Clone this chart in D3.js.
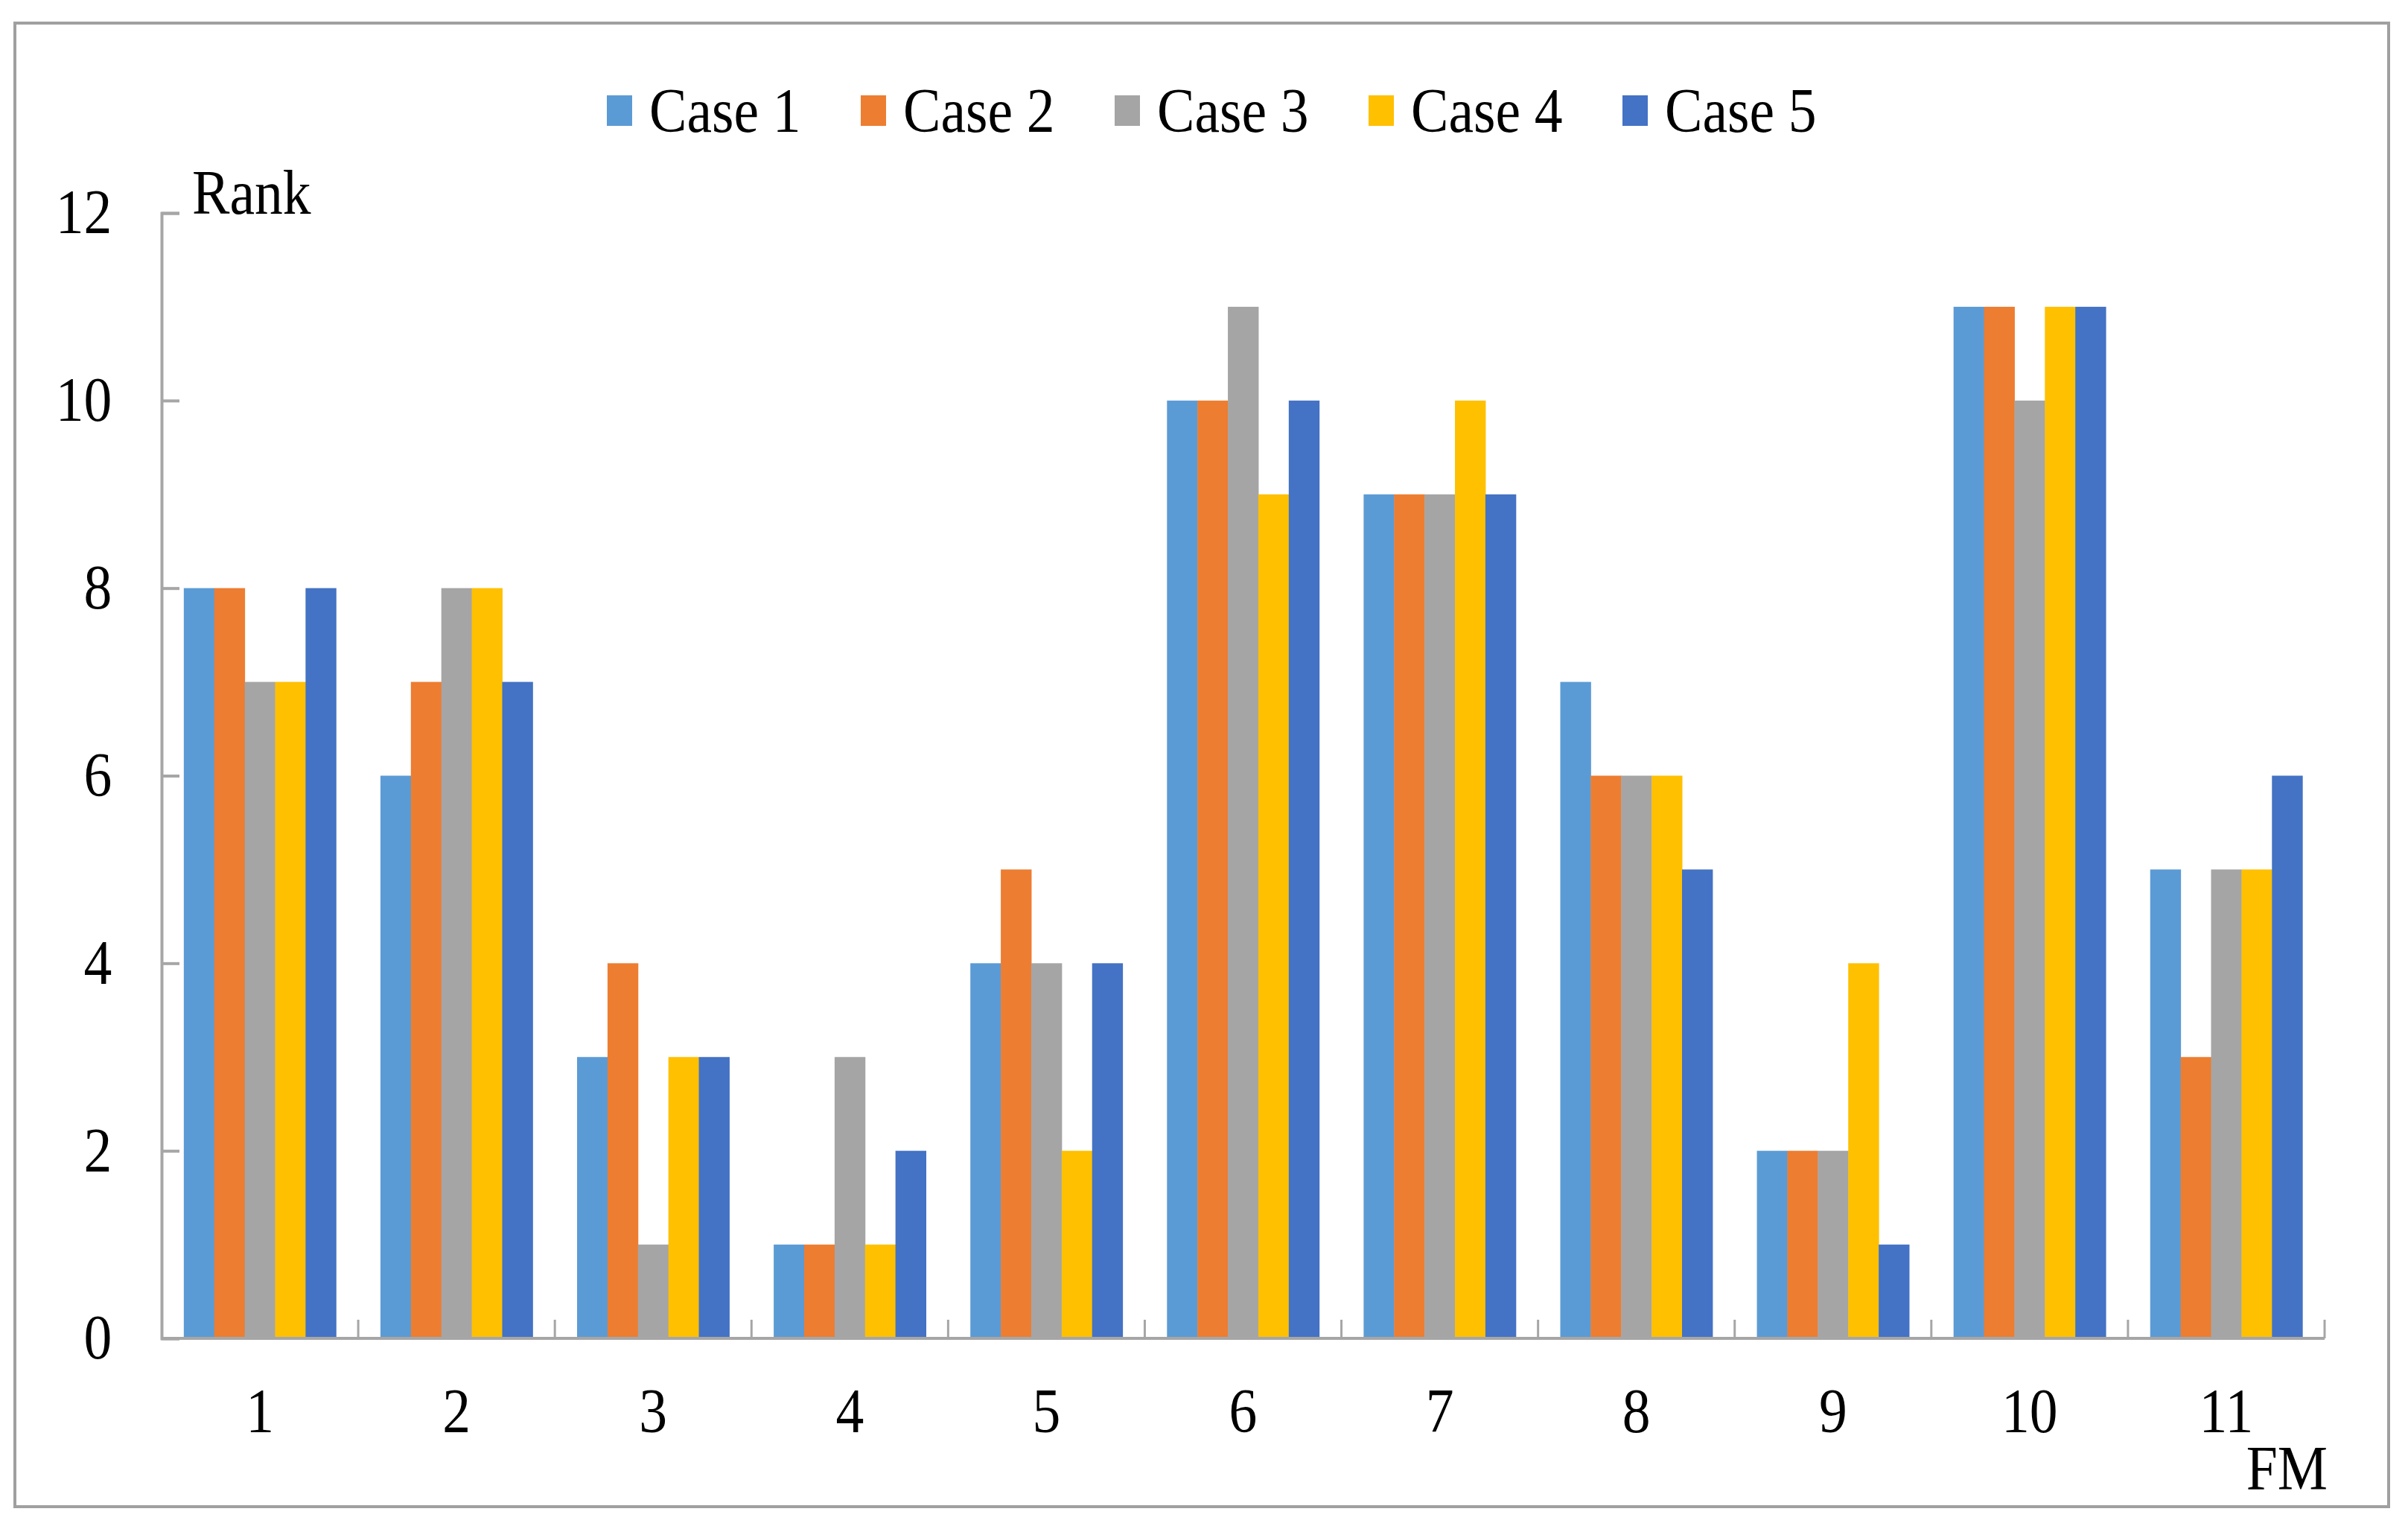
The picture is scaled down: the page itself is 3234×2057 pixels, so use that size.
<!DOCTYPE html>
<html>
<head>
<meta charset="utf-8">
<script src="https://cdn.jsdelivr.net/npm/d3@7"></script>
<style>
  body { margin: 0; background: #fff; }
  text { font-family: "Liberation Serif", "Times New Roman", serif; fill: #000; }
</style>
</head>
<body>
<div id="visualization"></div>
<script>
const categories = ['1', '2', '3', '4', '5', '6', '7', '8', '9', '10', '11']
const seriesNames = ['Case 1', 'Case 2', 'Case 3', 'Case 4', 'Case 5']
const case1 = [8, 6, 3, 1, 4, 10, 9, 7, 2, 11, 5]
const case2 = [8, 7, 4, 1, 5, 10, 9, 6, 2, 11, 3]
const case3 = [7, 8, 1, 3, 4, 11, 9, 6, 2, 10, 5]
const case4 = [7, 8, 3, 1, 2, 9, 10, 6, 4, 11, 5]
const case5 = [8, 7, 3, 2, 4, 10, 9, 5, 1, 11, 6]
const yTicks = [0, 2, 4, 6, 8, 10, 12]
const colors = ['#5B9BD5', '#ED7D31', '#A5A5A5', '#FFC000', '#4472C4']

;(() => {
  let width = 3234
  let height = 2057
  let fontSize = 84
  let squeeze = 0.9

  let left = 217, right = 3122, top = 286, bottom = 1797

  let allSeries = [case1, case2, case3, case4, case5]

  let svg = d3.select('#visualization')
    .append('svg')
      .attr('width', width)
      .attr('height', height)

  // outer frame
  svg.append('rect')
    .attr('x', 20).attr('y', 31)
    .attr('width', 3188).attr('height', 1992)
    .attr('fill', 'none')
    .attr('stroke', '#a0a0a0')
    .attr('stroke-width', 4)

  let x0 = d3.scaleBand()
    .domain(categories)
    .range([left, right])
    .paddingInner(0.226)
    .paddingOuter(0.113)

  let x1 = d3.scaleBand()
    .domain(seriesNames)
    .range([0, x0.bandwidth()])

  let yScale = d3.scaleLinear()
    .domain([0, 12])
    .range([bottom, top])

  // bars
  let groups = svg.selectAll('g.cat')
    .data(categories)
    .enter()
    .append('g')
      .attr('class', 'cat')
      .attr('transform', (c) => 'translate(' + x0(c) + ',0)')

  groups.selectAll('rect')
    .data((c, i) => seriesNames.map((s, j) => ({ s: s, v: allSeries[j][i], color: colors[j] })))
    .enter()
    .append('rect')
      .attr('x', (d) => x1(d.s))
      .attr('y', (d) => yScale(d.v))
      .attr('width', x1.bandwidth() + 0.5)
      .attr('height', (d) => bottom - yScale(d.v))
      .attr('fill', (d) => d.color)

  // y axis
  let yAxis = svg.append('g')
    .attr('transform', 'translate(' + left + ',0)')
    .call(d3.axisLeft(yScale).tickValues(yTicks).tickSize(-24).tickPadding(74).tickFormat(d3.format('d')))
  yAxis.select('.domain').attr('stroke', '#a6a6a6').attr('stroke-width', 4)
  yAxis.selectAll('.tick line').attr('stroke', '#a6a6a6').attr('stroke-width', 4)
  yAxis.selectAll('.tick text')
    .attr('font-size', fontSize)
    .attr('font-family', '"Liberation Serif", serif')
    .attr('fill', '#000')
    .attr('transform', 'scale(' + squeeze + ',1)')

  // x axis line and boundary ticks
  let boundaries = categories.map((c) => x0(c) - x0.step() * x0.paddingOuter())
  boundaries.push(right)

  svg.append('line')
    .attr('x1', left).attr('x2', right)
    .attr('y1', bottom).attr('y2', bottom)
    .attr('stroke', '#a6a6a6').attr('stroke-width', 4)

  svg.selectAll('line.xtick')
    .data(boundaries.slice(1))
    .enter()
    .append('line')
      .attr('class', 'xtick')
      .attr('x1', (d) => d).attr('x2', (d) => d)
      .attr('y1', bottom).attr('y2', bottom - 25)
      .attr('stroke', '#a6a6a6').attr('stroke-width', 3)

  // x labels
  svg.selectAll('g.xlabel')
    .data(categories)
    .enter()
    .append('g')
      .attr('class', 'xlabel')
      .attr('transform', (c) => 'translate(' + (x0(c) + x0.bandwidth() / 2) + ',' + (bottom + 126) + ')')
    .append('text')
      .attr('text-anchor', 'middle')
      .attr('font-size', fontSize)
      .attr('transform', 'scale(' + squeeze + ',1)')
      .text((c) => c)

  // axis titles
  svg.append('g')
    .attr('transform', 'translate(258,287)')
    .append('text')
      .attr('font-size', fontSize)
      .attr('transform', 'scale(' + squeeze + ',1)')
      .text('Rank')

  svg.append('g')
    .attr('transform', 'translate(3126,2000)')
    .append('text')
      .attr('text-anchor', 'end')
      .attr('font-size', fontSize)
      .attr('transform', 'scale(' + squeeze + ',1)')
      .text('FM')

  // legend
  let legend = svg.selectAll('g.legend')
    .data(seriesNames)
    .enter()
    .append('g')
      .attr('class', 'legend')
      .attr('transform', (d, i) => 'translate(' + (815 + i * 341) + ',0)')

  legend.append('rect')
    .attr('x', 0).attr('y', 128)
    .attr('width', 34).attr('height', 41)
    .attr('fill', (d, i) => colors[i])

  legend.append('g')
    .attr('transform', 'translate(57,177)')
    .append('text')
      .attr('font-size', fontSize)
      .attr('transform', 'scale(' + squeeze + ',1)')
      .text((d) => d)
})()
</script>
</body>
</html>
